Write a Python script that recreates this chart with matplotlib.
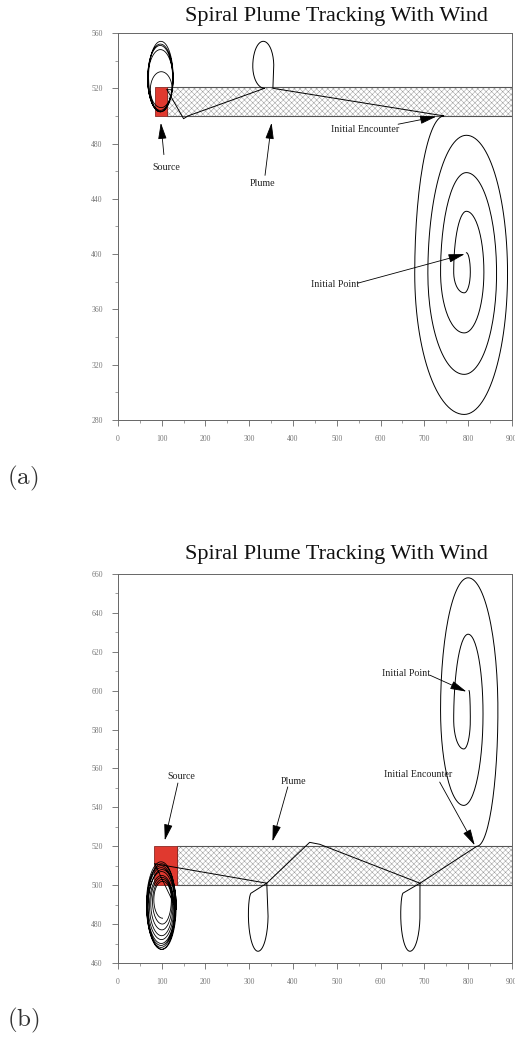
import numpy as np
import matplotlib
matplotlib.use("Agg")
import matplotlib.pyplot as plt
from matplotlib.patches import Rectangle

plt.rcParams['font.family'] = ['Liberation Serif', 'DejaVu Serif']
plt.rcParams['hatch.linewidth'] = 0.35
plt.rcParams['mathtext.fontset'] = 'cm'

TITLE = "Spiral Plume Tracking With Wind"

# ---- run (a): source, plume band, track ----
a_xlim, a_ylim = (0, 900), (280, 560)
a_xticks = [0, 100, 200, 300, 400, 500, 600, 700, 800, 900]
a_yticks = [280, 320, 360, 400, 440, 480, 520, 560]
a_source = (84, 111, 500, 521)      # x0, x1, y0, y1
a_band = (111, 900, 500, 521)

# track from the initial point: extreme points joined by quarter arcs / lines
a_track_x = [796, 805, 791, 767, 796, 836, 791, 737, 796, 865, 791, 708, 796, 890, 791, 678, 745,
             354, 356, 332, 308, 335, 160, 150, 112]
a_track_y = [401, 387, 372, 387, 431, 387, 343, 387, 459, 386, 313, 386, 486, 386, 284, 386, 500,
             520, 536, 554, 536, 520, 500, 498, 519]
a_track_join = "abababababababab" + "llbablll"

# loops around the source
a_loop_l = [74, 68, 68, 70, 68]
a_loop_r = [124, 126, 125, 126, 126]
a_loop_b = [506, 504, 503, 503, 503]
a_loop_t = [532, 548, 551, 554, 552]

a_notes = [("Source", (98, 495), (105, 472), (111, 463)),
           ("Plume", (351, 495), (336, 457), (331, 451)),
           ("Initial Encounter", (727, 499.5), (640, 494), (564, 490)),
           ("Initial Point", (792, 400), (548, 379), (495, 378))]

# ---- run (b) ----
b_xlim, b_ylim = (0, 900), (460, 660)
b_xticks = [0, 100, 200, 300, 400, 500, 600, 700, 800, 900]
b_yticks = [460, 480, 500, 520, 540, 560, 580, 600, 620, 640, 660]
b_source = (82, 135, 500, 520)
b_band = (135, 900, 500, 520)

b_track_x = [802, 805, 790, 767, 800, 834, 790, 737, 800, 868, 820,
             690, 690, 667, 646, 652, 690, 461, 438, 340, 343, 320, 298, 305, 340, 84]
b_track_y = [600, 585, 570, 585, 629, 588, 541, 590, 658, 590, 520,
             501, 485, 466, 485, 496, 501, 521, 522, 501, 485, 466, 485, 496, 501, 511]
b_track_join = "ababababab" + "llbablllllbabll"

b_loop_l = [68, 66, 65, 66, 67, 69, 72, 75, 79, 82]
b_loop_r = [134, 133, 132, 131, 131, 130, 128, 126, 124, 122]
b_loop_b = [467, 467, 468, 469, 470, 472, 474, 477, 480, 483]
b_loop_t = [508, 511, 512, 510, 509, 507, 505, 504, 503, 502]

b_notes = [("Initial Point", (796, 599.5), (712, 608), (659, 609)),
           ("Source", (107, 523), (137, 552.5), (145, 556)),
           ("Plume", (353, 522.5), (388, 550.5), (402, 553.5)),
           ("Initial Encounter", (815, 520.5), (735, 553), (686, 557))]


def trace(xs, ys, joins):
    """Join points with straight lines ('l') or quarter ellipses
    leaving horizontally ('a') or vertically ('b')."""
    px, py = [xs[0]], [ys[0]]
    t = np.linspace(0, np.pi / 2, 30)[1:]
    for i, j in enumerate(joins):
        x0, y0, x1, y1 = xs[i], ys[i], xs[i + 1], ys[i + 1]
        if j == 'l':
            px.append(x1)
            py.append(y1)
        elif j == 'a':
            cx, cy = x0, y1
            px.extend(cx + (x1 - cx) * np.sin(t))
            py.extend(cy + (y0 - cy) * np.cos(t))
        else:
            cx, cy = x1, y0
            px.extend(cx + (x0 - cx) * np.cos(t))
            py.extend(cy + (y1 - cy) * np.sin(t))
    return px, py


def loops(start_x, start_y, ls, rs, bs, ts):
    xs, ys, joins = [start_x], [start_y], "l"
    for l, r, b, t in zip(ls, rs, bs, ts):
        cx, cy = (l + r) / 2, (b + t) / 2
        xs += [r, cx, l, cx]
        ys += [cy, t, cy, b]
        joins += "baba"
    return xs, ys, joins[:-1]


def panel(ax, xlim, ylim, xticks, yticks, source, band, tx, ty, tj, lp, notes):
    ax.set_xlim(*xlim)
    ax.set_ylim(*ylim)

    x0, x1, y0, y1 = band
    ax.add_patch(Rectangle((x0, y0), x1 - x0, y1 - y0, facecolor='white',
                           edgecolor='#9a9a9a', hatch='xxxxxx', lw=0, zorder=1))
    ax.add_patch(Rectangle((x0, y0), x1 - x0, y1 - y0, fill=False,
                           edgecolor='#555555', lw=0.8, zorder=2))
    x0, x1, y0, y1 = source
    ax.add_patch(Rectangle((x0, y0), x1 - x0, y1 - y0, facecolor='#e0392f',
                           edgecolor='#8a2a25', lw=0.6, zorder=2))

    px, py = trace(tx, ty, tj)
    ax.plot(px, py, color='black', lw=0.7, zorder=3)
    lx, ly, lj = loops(tx[-1], ty[-1], *lp)
    px, py = trace(lx, ly, lj)
    ax.plot(px, py, color='black', lw=0.6, zorder=3)

    for label, tip, tail, txt in notes:
        ax.annotate("", xy=tip, xytext=tail, zorder=4,
                    arrowprops=dict(arrowstyle='-|>,head_length=1.0,head_width=0.26',
                                    color='black', lw=0.6, mutation_scale=10,
                                    shrinkA=0, shrinkB=0))
        ax.text(txt[0], txt[1], label, fontsize=7.2, ha='center', va='center',
                color='#222222', zorder=5)

    ax.set_xticks(xticks)
    ax.set_yticks(yticks)
    ax.set_xticks([v + (xticks[1] - xticks[0]) / 2 for v in xticks[:-1]], minor=True)
    ax.set_yticks([v + (yticks[1] - yticks[0]) / 2 for v in yticks[:-1]], minor=True)
    ax.tick_params(which='major', direction='out', length=4, width=0.6,
                   colors='#666666', labelsize=5.5, labelcolor='#777777', pad=7)
    ax.tick_params(which='minor', direction='out', length=2.5, width=0.5, colors='#777777')
    for s in ax.spines.values():
        s.set_color('#666666')
        s.set_linewidth(0.7)


fig = plt.figure(figsize=(5.15, 10.38), dpi=100)
ax1 = fig.add_axes([0.229, 0.5954, 0.765, 0.3728])
ax2 = fig.add_axes([0.229, 0.0723, 0.765, 0.3748])

panel(ax1, a_xlim, a_ylim, a_xticks, a_yticks, a_source, a_band,
      a_track_x, a_track_y, a_track_join, (a_loop_l, a_loop_r, a_loop_b, a_loop_t), a_notes)
panel(ax2, b_xlim, b_ylim, b_xticks, b_yticks, b_source, b_band,
      b_track_x, b_track_y, b_track_join, (b_loop_l, b_loop_r, b_loop_b, b_loop_t), b_notes)

fig.text(0.653, 1 - 16 / 1038, TITLE, fontsize=16, ha='center', va='center', color='#111111')
fig.text(0.653, 1 - 555 / 1038, TITLE, fontsize=16, ha='center', va='center', color='#111111')
fig.text(0.014, 1 - 478 / 1038, r"$\mathrm{(a)}$", fontsize=18, ha='left', va='center', color='#333333')
fig.text(0.014, 1 - 1020 / 1038, r"$\mathrm{(b)}$", fontsize=18, ha='left', va='center', color='#333333')

fig.savefig("out.png", dpi=100)
